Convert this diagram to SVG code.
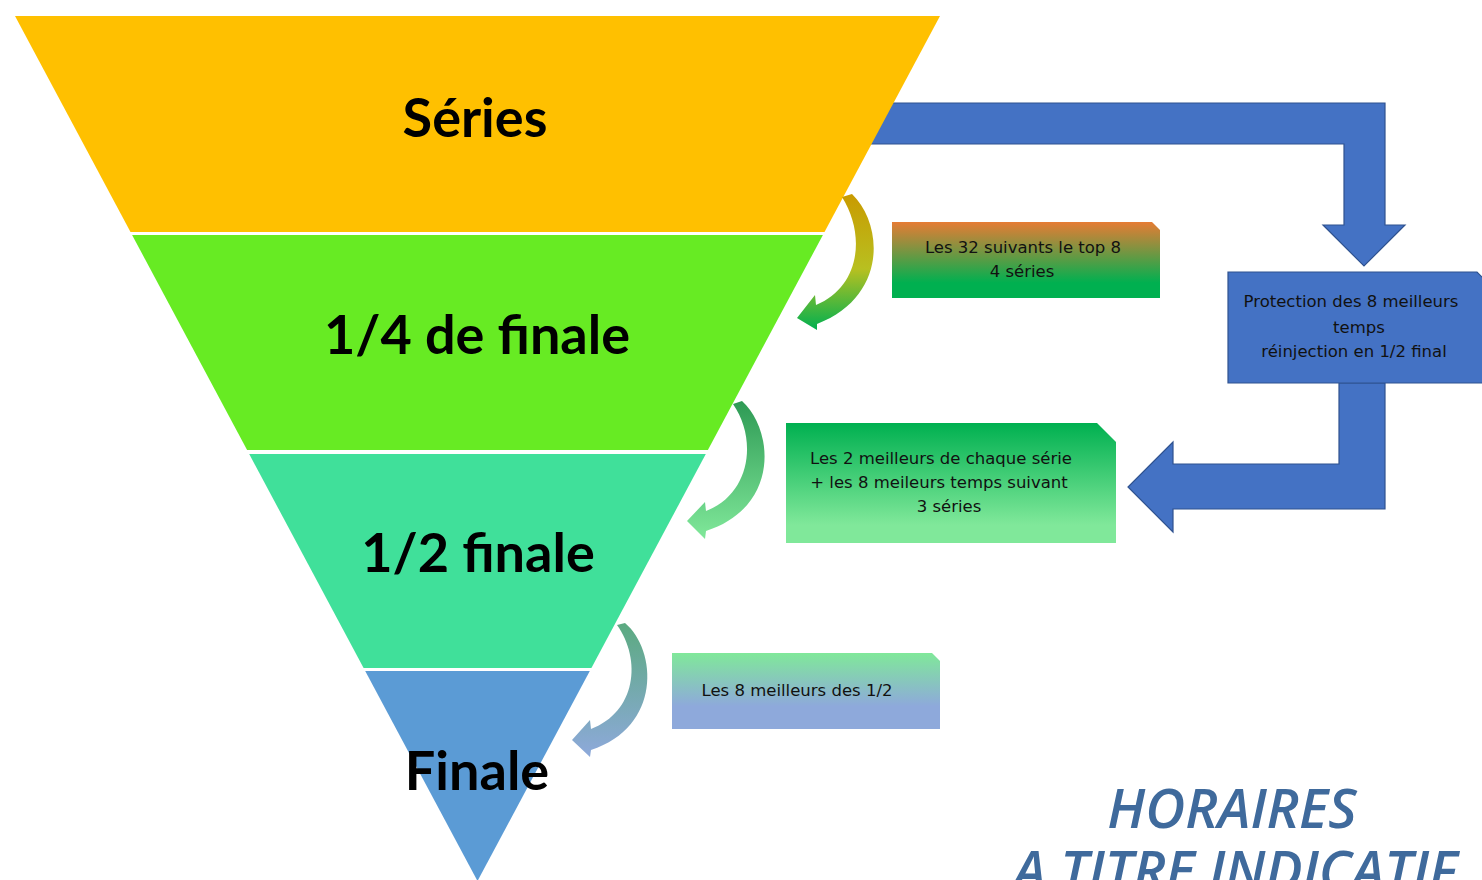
<svg xmlns="http://www.w3.org/2000/svg" width="1482" height="880" viewBox="0 0 1482 880">
<style>
.band{stroke:none}
.big{font-family:Lato,"Open Sans",sans-serif;font-weight:700;font-size:54px;fill:#000;text-anchor:middle}
.small{font-family:"DejaVu Sans","Liberation Sans",sans-serif;font-size:16.5px;fill:#111;text-anchor:middle}
.blue{fill:#4472C4;stroke:#2F528F;stroke-width:1.2}
.title{font-family:"Open Sans","Liberation Sans",sans-serif;font-style:italic;font-weight:600;font-size:55px;fill:#3F6A9C;text-anchor:middle}
</style>
<defs>
<linearGradient id="g1" x1="0" y1="0" x2="0" y2="1"><stop offset="0" stop-color="#E67C34"/><stop offset="0.8" stop-color="#00B050"/></linearGradient>
<linearGradient id="g2" x1="0" y1="0" x2="0" y2="1"><stop offset="0" stop-color="#00B050"/><stop offset="0.85" stop-color="#80E89A"/></linearGradient>
<linearGradient id="g3" x1="0" y1="0" x2="0" y2="1"><stop offset="0" stop-color="#80E89A"/><stop offset="0.7" stop-color="#8EA9DB"/></linearGradient>
<linearGradient id="a1" x1="0" y1="0" x2="0" y2="1"><stop offset="0" stop-color="#C99A00"/><stop offset="0.55" stop-color="#B8C020"/><stop offset="1" stop-color="#00B050"/></linearGradient>
<linearGradient id="a2" x1="0" y1="0" x2="0" y2="1"><stop offset="0" stop-color="#2E9A55"/><stop offset="1" stop-color="#80E89A"/></linearGradient>
<linearGradient id="a3" x1="0" y1="0" x2="0" y2="1"><stop offset="0" stop-color="#5BAA80"/><stop offset="1" stop-color="#8EA9DB"/></linearGradient>
</defs>

<g id="connectors">
<path id="arrow-top" class="blue" d="M860 103 L1385 103 L1385 225 L1405 225 L1364 266 L1323 225 L1344 225 L1344 144 L860 144 Z"/>
<path id="arrow-bottom" class="blue" d="M1339 383 L1385 383 L1385 509 L1173 509 L1173 532 L1128 487 L1173 442 L1173 464 L1339 464 Z"/>
</g>

<g id="funnel-series">
<polygon class="band" fill="#FFC000" points="15,16 940,16 824.5,232 130.5,232"/>
<text class="big" x="475" y="137">Séries</text>
</g>
<g id="funnel-quart">
<polygon class="band" fill="#67EB23" points="132.1,235 822.9,235 707.9,450 247.1,450"/>
<text class="big" x="477" y="354">1/4 de finale</text>
</g>
<g id="funnel-demi">
<polygon class="band" fill="#40E09A" points="249.2,454 705.8,454 591.4,668 363.6,668"/>
<text class="big" x="478" y="572">1/2 finale</text>
</g>
<g id="funnel-finale">
<polygon class="band" fill="#5B9BD5" points="365.2,671 589.8,671 477.5,881"/>
<text class="big" x="477" y="790">Finale</text>
</g>

<g id="connectors-curved">
<path fill="url(#a1)" d="M842 197 L852 194 C884 225 887 297 817 324 L817 330 L797 318 L815 295 L816 305 C860 287 866 235 842 197 Z"/>
<path fill="url(#a2)" d="M733 404 L742 401 C774 430 780 507 706 531 L705 539 L687 521 L705 502 L706 511 C750 494 758 440 733 404 Z"/>
<path fill="url(#a3)" d="M617 625 L625 623 C657 650 662 727 591 750 L590 757 L572 740 L590 720 L591 729 C636 712 642 660 617 625 Z"/>
</g>

<g id="box-32">
<polygon fill="url(#g1)" points="892,222 1152,222 1160,230 1160,298 892,298"/>
<text class="small" x="1023" y="253">Les 32 suivants le top 8</text>
<text class="small" x="1022" y="277">4 séries</text>
</g>
<g id="box-2meilleurs">
<polygon fill="url(#g2)" points="786,423 1097,423 1116,442 1116,543 786,543"/>
<text class="small" x="941" y="464">Les 2 meilleurs de chaque série</text>
<text class="small" x="939" y="488">+ les 8 meileurs temps suivant</text>
<text class="small" x="949" y="512">3 séries</text>
</g>
<g id="box-8meilleurs">
<polygon fill="url(#g3)" points="672,653 932,653 940,661 940,729 672,729"/>
<text class="small" x="797" y="696">Les 8 meilleurs des 1/2</text>
</g>
<g id="box-protection">
<polygon class="blue" points="1228,272 1477,272 1490,285 1490,383 1228,383"/>
<text class="small" x="1351" y="307">Protection des 8 meilleurs</text>
<text class="small" x="1359" y="333">temps</text>
<text class="small" x="1354" y="357">réinjection en 1/2 final</text>
</g>

<g id="title">
<text class="title" x="1232" y="828">HORAIRES</text>
<text class="title" x="1235" y="890">A TITRE INDICATIF</text>
</g>
</svg>
